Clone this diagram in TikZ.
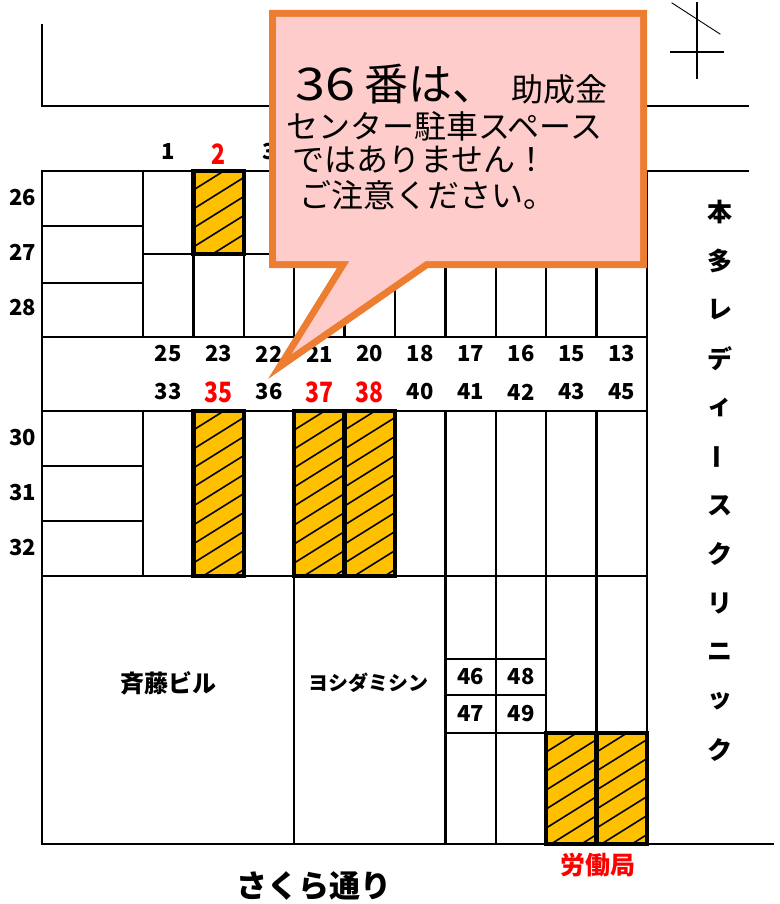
\documentclass[tikz,border=0pt]{standalone}
\usepackage{fontspec}
\newfontfamily\jp{Noto Sans CJK JP}
\newfontfamily\jpnarrow[FakeStretch=0.82]{Noto Sans CJK JP}
\newfontfamily\jpwide[FakeStretch=1.2]{Noto Sans CJK JP}
\definecolor{spotfill}{HTML}{FFC000}
\definecolor{calloutline}{HTML}{ED7D31}
\definecolor{calloutfill}{HTML}{FFCCCC}
\begin{document}
\begin{tikzpicture}[x=1pt,y=-1pt,line cap=rect,font=\jp,
	num/.style={inner sep=0pt,font=\jp\bfseries\fontsize{22}{22}\selectfont},
	rednum/.style={inner sep=0pt,text=red,font=\jpnarrow\bfseries\fontsize{28}{28}\selectfont},
	tate/.style={inner sep=0pt,font=\jp\bfseries\fontsize{25}{25}\selectfont},
	msg/.style={inner sep=0pt,anchor=west,font=\jp\fontsize{32}{32}\selectfont},
	lane/.style={line width=2.4pt}]
		\useasboundingbox (0,0) rectangle (779,904);
		\def\parkspot(#1,#2,#3,#4){%
			\fill[spotfill] (#1,#2) rectangle (#3,#4);
			\begin{scope}
			\clip (#1,#2) rectangle (#3,#4);
			\foreach \k in {0,...,11}
				\draw[line width=1.6pt] (#1,#2+\k*19) -- ++(80,-50);
			\end{scope}
			\draw[line width=4.4pt] (#1,#2) rectangle (#3,#4);}
		% road edges and north mark
		\draw[lane] (42,25) -- (42,106) -- (748,106);
		\draw[lane] (42,171) -- (748,171);
		\draw[line width=1.8pt] (697,3) -- (697,78) (671,52) -- (723,52);
		\draw[line width=0.9pt] (672,3) -- (720,34);
		% parking lot
		\draw[lane] (42,171) -- (42,844) -- (773,844);
		\draw[lane] (647,171) -- (647,733);
		\draw[lane] (42,226) -- (143,226) (42,283) -- (143,283) (143,254) -- (647,254);
		\draw[lane] (42,337) -- (647,337) (42,411) -- (647,411) (42,576) -- (647,576);
		\draw[lane] (42,466) -- (143,466) (42,521) -- (143,521);
		\foreach \i in {0,...,9}{
			\draw[lane] ({143+50.4*\i},171) -- ({143+50.4*\i},337);
			\draw[lane] ({143+50.4*\i},411) -- ({143+50.4*\i},576);
		}
		\draw[lane] (294.2,576) -- (294.2,844) (445.4,576) -- (445.4,844) (495.8,576) -- (495.8,844);
		\draw[lane] (546.2,576) -- (546.2,733) (596.6,576) -- (596.6,733);
		\draw[lane] (445.4,659) -- (546.2,659) (445.4,695) -- (546.2,695) (445.4,733) -- (647,733);
		% reserved spots
		\parkspot(193.4,171,243.8,254)
		\parkspot(193.4,411,243.8,576)
		\parkspot(294.2,411,344.6,576)
		\parkspot(344.6,411,395,576)
		\parkspot(546.2,733,596.6,844)
		\parkspot(596.6,733,647,844)
		% numbers
		\node[num] (t1) at (168.2,152) {1};
		\node[rednum] (t2) at (218.6,154) {2};
		\node[num] (t3) at (269,152) {3};
		\foreach \n/\y in {26/198,27/252,28/308,30/438,31/493,32/548}
			\node[num] (r\n) at (23,\y) {\n};
		\foreach \n [count=\i from 0] in {25,23,22,21,20,18,17,16,15,13}
			\node[num] (u\n) at ({168.2+50.4*\i},354) {\n};
		\foreach \n/\s [count=\i from 0] in {33/num,35/rednum,36/num,37/rednum,38/rednum,40/num,41/num,42/num,43/num,45/num}
			\node[\s] (l\n) at ({168.2+50.4*\i},392) {\n};
		\node[num] (b46) at (470.6,677) {46};
		\node[num] (b48) at (521,677) {48};
		\node[num] (b47) at (470.6,714) {47};
		\node[num] (b49) at (521,714) {49};
		% buildings and streets
		\node[inner sep=0pt,font=\jp\bfseries\fontsize{24}{24}\selectfont] (saito) at (168,683) {斉藤ビル};
		\node[inner sep=0pt,font=\jp\bfseries\fontsize{20}{20}\selectfont] (yoshida) at (368,683) {ヨシダミシン};
		\node[inner sep=0pt,text=red,font=\jp\bfseries\fontsize{25}{25}\selectfont] (rodo) at (598,865) {労働局};
		\node[inner sep=0pt,font=\jp\bfseries\fontsize{31}{31}\selectfont] (sakura) at (314,886) {さくら通り};
		\foreach \c/\r [count=\i from 0] in {本/0,多/0,レ/0,デ/0,ィ/0,ー/90,ス/0,ク/0,リ/0,ニ/0,ッ/0,ク/0}
			\node[tate,rotate=\r] (h\i) at (720,{212+48.9*\i}) {\c};
		% callout
		\fill[calloutline] (269,10) -- (647,10) -- (647,268) -- (428,268) -- (268,379) -- (337,268) -- (269,268) -- cycle;
		\fill[calloutfill] (276,17) -- (640,17) -- (640,261) -- (425.7,261) -- (291.8,353.9) -- (349.5,261) -- (276,261) -- cycle;
		\node[msg,font=\jp\fontsize{44}{44}\selectfont] (m1) at (295,84) {{\jpwide\fontsize{45}{45}\selectfont 36}\hspace{9pt}番は、};
		\node[msg] (m1b) at (511,89) {助成金};
		\node[msg] (m2) at (286,126) {センター駐車スペース};
		\node[msg] (m3) at (292,160) {ではありません！};
		\node[msg] (m4) at (299,195) {ご注意ください。};
\end{tikzpicture}
\end{document}
